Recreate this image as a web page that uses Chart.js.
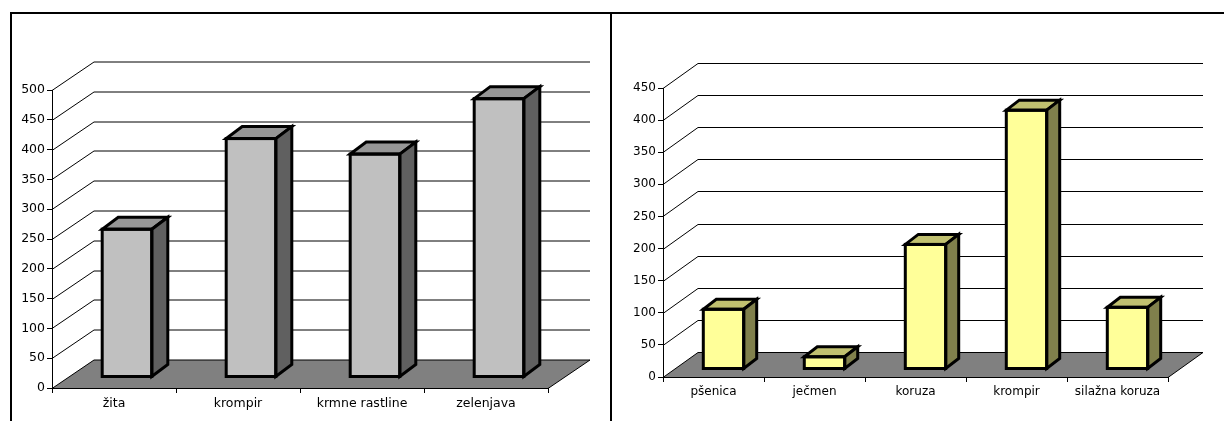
<!DOCTYPE html>
<html lang="sl">

<head>
  <meta charset="UTF-8">
  <title>Pridelki</title>
  <script src="https://cdn.jsdelivr.net/npm/chart.js"></script>
  <style>
    body {
      margin: 0;
      background: #fff;
      width: 1224px;
      height: 421px;
      overflow: hidden;
      position: relative;
    }

    .okvir {
      position: absolute;
      left: 10px;
      top: 12px;
      width: 1400px;
      height: 600px;
      border-top: 2px solid #000;
      border-left: 2px solid #000;
    }

    .graf {
      position: absolute;
      top: 14px;
      height: 407px;
    }

    .levo {
      left: 12px;
      width: 598px;
    }

    .desno {
      left: 612px;
      width: 612px;
    }

    .loclnica {
      position: absolute;
      left: 610px;
      top: 14px;
      width: 2px;
      height: 407px;
      background: #000;
    }
  </style>
</head>

<body>
  <div class="okvir"></div>
  <div class="graf levo"><canvas id="grafLevo" width="598" height="407"></canvas></div>
  <div class="loclnica"></div>
  <div class="graf desno"><canvas id="grafDesno" width="612" height="407"></canvas></div>

  <script>
    // podatki
    var kategorijeLevo = ['žita', 'krompir', 'krmne rastline', 'zelenjava'];
    var vrednostiLevo = [248, 400, 374, 467];
    var kategorijeDesno = ['pšenica', 'ječmen', 'koruza', 'krompir', 'silažna koruza'];
    var vrednostiDesno = [93, 19, 194, 403, 96];
    var maksLevo = 500;
    var maksDesno = 450;
    var korak = 50;

    function crta(ctx, tocke) {
      ctx.beginPath();
      ctx.moveTo(tocke[0][0], tocke[0][1]);
      for (var i = 1; i < tocke.length; i++) {
        ctx.lineTo(tocke[i][0], tocke[i][1]);
      }
    }

    // 3D videz: tla, stene, mreza in stranice stolpcev
    var efekt3d = {
      id: 'efekt3d',
      beforeDraw: function (chart, args, o) {
        var ctx = chart.ctx;
        var a = chart.chartArea;
        var y = chart.scales.y;
        var dx = o.globina[0], dy = o.globina[1];
        var y0 = Math.round(y.getPixelForValue(0)) + 0.5;
        ctx.save();
        // tla
        ctx.fillStyle = '#808080';
        crta(ctx, [[a.left, y0], [a.right, y0], [a.right + dx, y0 + dy], [a.left + dx, y0 + dy]]);
        ctx.closePath();
        ctx.fill();
        // mreza
        ctx.strokeStyle = '#000';
        ctx.lineWidth = 1;
        y.ticks.forEach(function (t) {
          var py = Math.round(y.getPixelForValue(t.value)) + 0.5;
          crta(ctx, [[a.left, py], [a.left + dx, py + dy], [a.right + dx, py + dy]]);
          ctx.stroke();
        });
        crta(ctx, [[a.right, y0], [a.right + dx, y0 + dy]]);
        ctx.stroke();
        ctx.restore();
      },
      beforeDatasetsDraw: function (chart, args, o) {
        chart.ctx.save();
        chart.ctx.translate(o.zamik[0], o.zamik[1]);
      },
      afterDatasetsDraw: function (chart, args, o) {
        var ctx = chart.ctx;
        var bx = o.globinaStolpca[0], by = o.globinaStolpca[1];
        var meta = chart.getDatasetMeta(0);
        ctx.lineWidth = 3;
        ctx.lineJoin = 'miter';
        ctx.strokeStyle = '#000';
        meta.data.forEach(function (el) {
          var p = el.getProps(['x', 'y', 'base', 'width'], true);
          var l = p.x - p.width / 2, r = p.x + p.width / 2;
          var t = Math.min(p.y, p.base), b = Math.max(p.y, p.base);
          // vrh
          ctx.fillStyle = o.barvaVrh;
          crta(ctx, [[l, t], [r, t], [r + bx, t + by], [l + bx, t + by]]);
          ctx.closePath();
          ctx.fill();
          ctx.stroke();
          // stranica
          ctx.fillStyle = o.barvaStran;
          crta(ctx, [[r, t], [r + bx, t + by], [r + bx, b + by], [r, b]]);
          ctx.closePath();
          ctx.fill();
          ctx.stroke();
          // sprednja ploskev
          ctx.strokeRect(l, t, r - l, b - t);
        });
        ctx.restore();
      }
    };

    function narediGraf(id, kategorije, vrednosti, maks, nastavitve) {
      var pisava = { family: 'DejaVu Sans', size: nastavitve.pisava };
      return new Chart(document.getElementById(id), {
        type: 'bar',
        data: {
          labels: kategorije,
          datasets: [{
            data: vrednosti,
            backgroundColor: nastavitve.barvaSpredaj,
            borderWidth: 0,
            categoryPercentage: 1,
            barPercentage: 0.4
          }]
        },
        options: {
          responsive: false,
          animation: false,
          events: [],
          layout: {
            padding: { left: 0, top: nastavitve.zgoraj, right: nastavitve.desno, bottom: 0 }
          },
          plugins: {
            legend: { display: false },
            tooltip: { enabled: false },
            efekt3d: {
              globina: nastavitve.globina,
              zamik: nastavitve.zamik,
              globinaStolpca: nastavitve.globinaStolpca,
              barvaVrh: nastavitve.barvaVrh,
              barvaStran: nastavitve.barvaStran
            }
          },
          scales: {
            x: {
              afterFit: function (s) { s.height = nastavitve.visinaX; },
              grid: { drawOnChartArea: false, color: '#000', tickLength: 5, offset: true },
              border: { color: '#000', width: 1 },
              ticks: { color: '#000', font: pisava, padding: 3, maxRotation: 0 }
            },
            y: {
              min: 0,
              max: maks,
              afterFit: function (s) { s.width = nastavitve.sirinaY; },
              grid: { drawOnChartArea: false, color: '#000', tickLength: 5 },
              border: { color: '#000', width: 1 },
              ticks: { stepSize: korak, color: '#000', font: pisava, padding: 2 }
            }
          }
        },
        plugins: [efekt3d]
      });
    }

    var grafLevo = narediGraf('grafLevo', kategorijeLevo, vrednostiLevo, maksLevo, {
      pisava: 12.5,
      zgoraj: 76,
      desno: 62,
      visinaX: 33,
      sirinaY: 40,
      globina: [42, -28.5],
      zamik: [13, -11],
      globinaStolpca: [16, -12],
      barvaSpredaj: '#c0c0c0',
      barvaVrh: '#969696',
      barvaStran: '#606060'
    });

    var grafDesno = narediGraf('grafDesno', kategorijeDesno, vrednostiDesno, maksDesno, {
      pisava: 12,
      zgoraj: 74,
      desno: 56,
      visinaX: 44,
      sirinaY: 51,
      globina: [35, -25],
      zamik: [10, -8],
      globinaStolpca: [13, -10],
      barvaSpredaj: '#ffff99',
      barvaVrh: '#c0c070',
      barvaStran: '#80804c'
    });
  </script>
</body>

</html>
